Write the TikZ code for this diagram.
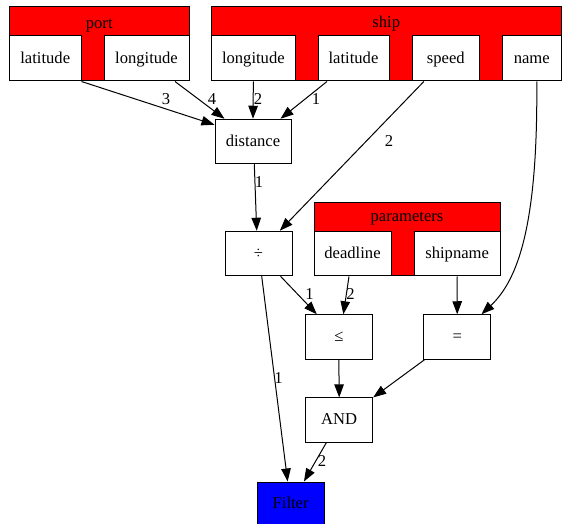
\documentclass[tikz,border=0pt]{standalone}
\usepackage{fontspec}
\setmainfont{Liberation Serif}
\usetikzlibrary{arrows.meta}
\begin{document}
\begin{tikzpicture}[x=1pt,y=-1pt,
  txt/.style={font=\fontsize{16.6}{20}\selectfont},
  box/.style={draw, line width=1pt, inner sep=0pt, txt, text height=12pt, text depth=2.4pt},
  fld/.style={box, fill=white, minimum height=45pt},
  rec/.style={box, fill=red},
  opbox/.style={box, fill=white, minimum width=67pt, minimum height=44.5pt},
  lbl/.style={inner sep=0pt, txt},
  hdr/.style={lbl, text height=12pt, text depth=2.4pt},
  edge/.style={line width=1pt, -{Triangle[length=13pt,width=9.5pt]}},
]
\useasboundingbox (0,0) rectangle (563,524);

% port record
\node[rec, minimum width=179.5pt, minimum height=74pt] (port) at (99.25,44) {};
\node[hdr] (porth) at (99.25,23.3) {port};
\node[fld, minimum width=71.5pt] (plat) at (45.25,58.5) {latitude};
\node[fld, minimum width=85pt] (plon) at (146.5,58.5) {longitude};

% ship record
\node[rec, minimum width=350.5pt, minimum height=74pt] (ship) at (386.25,44) {};
\node[hdr] (shiph) at (386.25,22.8) {ship};
\node[fld, minimum width=84.7pt] (slon) at (253.35,58.5) {longitude};
\node[fld, minimum width=71pt] (slat) at (353.5,58.5) {latitude};
\node[fld, minimum width=66.3pt] (sspd) at (445.85,58.5) {speed};
\node[fld, minimum width=59.5pt] (sname) at (531.75,58.5) {name};

% parameters record
\node[rec, minimum width=186pt, minimum height=73pt] (params) at (407,239.5) {};
\node[hdr] (paramsh) at (407,217) {parameters};
\node[fld, minimum width=77pt, minimum height=44.3pt] (pdead) at (352.5,253.85) {deadline};
\node[fld, minimum width=85.7pt, minimum height=44.3pt] (pship) at (457.15,253.85) {shipname};

% operation nodes
\node[opbox, minimum width=76pt] (dist) at (253,141.5) {distance};
\node[opbox] (div) at (258.5,253.5) {÷};
\node[opbox, minimum width=66.3pt] (le) at (338.85,337) {≤};
\node[opbox] (eq) at (457.2,337) {=};
\node[opbox] (and) at (339.2,420.15) {AND};
\node[opbox, fill=blue, minimum width=66.7pt, minimum height=44pt] (filter) at (290.65,504) {Filter};

% edges
\draw[edge] (plat.south east) -- ([yshift=-6pt]dist.north west);
\draw[edge] ([xshift=28.5pt]plon.south) -- ([xshift=10pt]dist.north west);
\draw[edge] (slon.south) -- (dist.north);
\draw[edge] ([xshift=-26.5pt]slat.south) -- ([xshift=-11pt]dist.north east);
\draw[edge] ([xshift=-22pt]sspd.south) -- ([xshift=-12.7pt]div.north east);
\draw[edge] ([xshift=5pt]sname.south) .. controls (538,225) and (518,280) .. ([xshift=-9.7pt]eq.north east);
\draw[edge] ([xshift=1.3pt]dist.south) -- ([xshift=-1.8pt]div.north);
\draw[edge] ([xshift=-12pt]div.south east) -- ([xshift=11.6pt]le.north west);
\draw[edge] ([xshift=-3.5pt]pdead.south) -- ([xshift=4.5pt]le.north);
\draw[edge] (pship.south) -- (eq.north);
\draw[edge] ([xshift=3.2pt]div.south) -- ([xshift=-3pt]filter.north);
\draw[edge] (le.south) -- (and.north);
\draw[edge] ([xshift=1.3pt]eq.south west) -- (and.north east);
\draw[edge] ([xshift=-13pt]and.south) -- ([xshift=13.3pt]filter.north);

% edge labels
\node[lbl] (l3) at (166,99) {3};
\node[lbl] (l4) at (212,99) {4};
\node[lbl] (l2a) at (258,99) {2};
\node[lbl] (l1a) at (316,99) {1};
\node[lbl] (l2b) at (389,141) {2};
\node[lbl] (l1b) at (259,182) {1};
\node[lbl] (l1c) at (309.5,294) {1};
\node[lbl] (l2c) at (350.5,294) {2};
\node[lbl] (l1d) at (278.5,378) {1};
\node[lbl] (l2d) at (322,461) {2};
\end{tikzpicture}
\end{document}
